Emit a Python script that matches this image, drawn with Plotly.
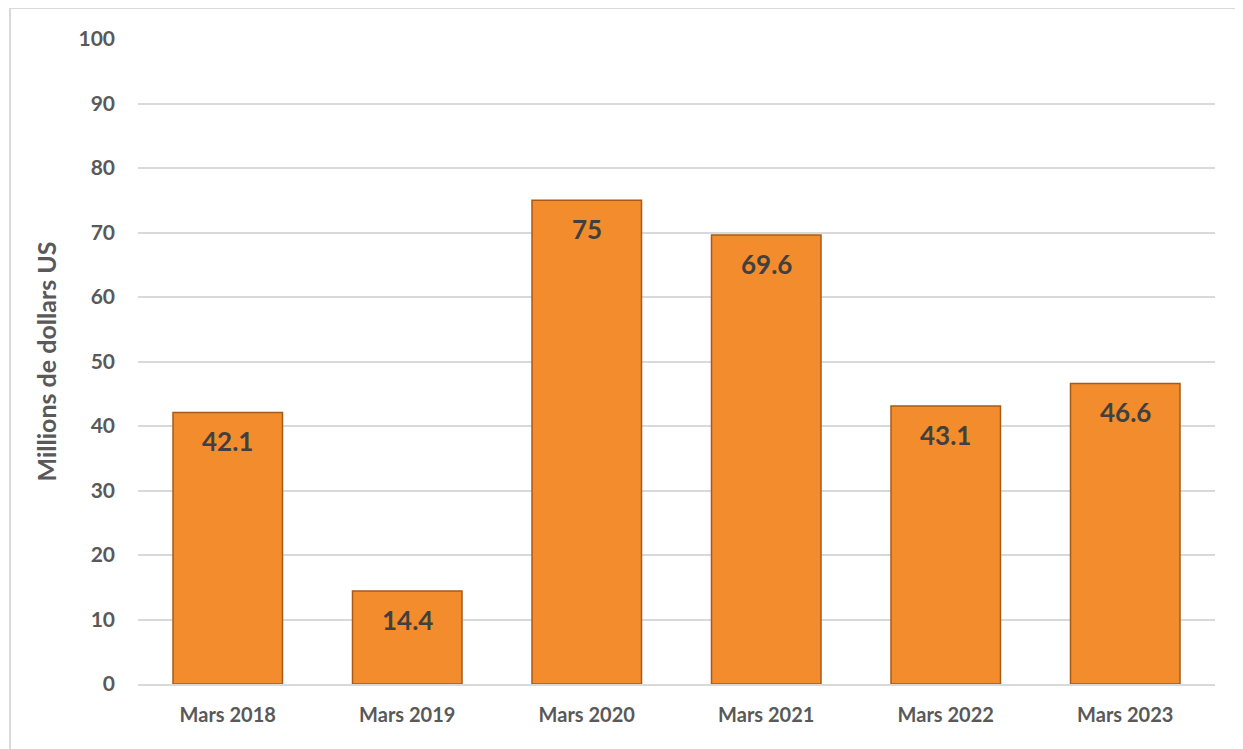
import plotly.graph_objects as go

categories = ["Mars 2018", "Mars 2019", "Mars 2020", "Mars 2021", "Mars 2022", "Mars 2023"]
values = [42.1, 14.4, 75, 69.6, 43.1, 46.6]
labels = ["42.1", "14.4", "75", "69.6", "43.1", "46.6"]
y_ticks = [0, 10, 20, 30, 40, 50, 60, 70, 80, 90, 100]

FONT = "Lato, 'Open Sans', Arial, sans-serif"

fig = go.Figure()
fig.add_trace(go.Bar(
    x=categories,
    y=values,
    marker=dict(color="#F28C2C", line=dict(color="#A85A18", width=1.5)),
    width=0.61,
    hoverinfo="x+y",
))

for cat, val, lab in zip(categories, values, labels):
    fig.add_annotation(x=cat, y=val, text=lab, showarrow=False,
                       yanchor="middle", yshift=-29,
                       font=dict(family=FONT, size=26, color="#404040", weight="bold"))

# page body adds an 8px offset; figure sized to compensate
fig.update_layout(
    width=1235, height=741,
    paper_bgcolor="white", plot_bgcolor="white",
    margin=dict(l=130, r=28, t=31, b=65),
    showlegend=False,
    xaxis=dict(
        tickfont=dict(family=FONT, size=20, color="#595959", weight="bold"),
        showline=True, linecolor="#D9D9D9", linewidth=1.5,
        ticks="", ticklabelstandoff=12,
    ),
    yaxis=dict(
        range=[0, 100], tickvals=y_ticks,
        tickfont=dict(family=FONT, size=21, color="#595959", weight="bold"),
        gridcolor="#D9D9D9", gridwidth=1.5,
        zeroline=False, showline=False,
        ticks="", ticklabelstandoff=22,
        title=dict(text="Millions de dollars US",
                   font=dict(family=FONT, size=25, color="#595959", weight="bold"),
                   standoff=14),
    ),
    shapes=[dict(type="rect", xref="paper", yref="paper",
                 x0=-0.1188, x1=1.0214, y0=-0.2, y1=1.048,
                 line=dict(color="#D9D9D9", width=2), fillcolor="rgba(0,0,0,0)",
                 layer="below")],
)

fig.write_html("out.html")
